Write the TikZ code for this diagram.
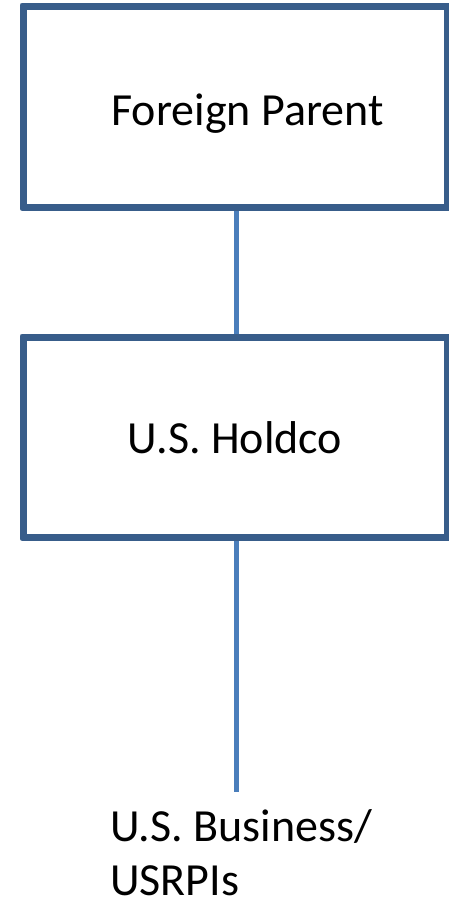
\documentclass[tikz,border=0pt]{standalone}
\usepackage{fontspec}
\setmainfont{Carlito}
\definecolor{boxblue}{HTML}{385D8A}
\definecolor{linkblue}{HTML}{4A7EBB}
\begin{document}
\begin{tikzpicture}[x=1pt,y=1pt,
  entity/.style={draw=boxblue, line width=5pt, line join=round, fill=white,
    minimum width=422pt, inner sep=0pt},
  label/.style={font=\fontsize{46}{55}\selectfont, inner sep=0pt, text=black},
  link/.style={draw=linkblue, line width=5.5pt}]
  \useasboundingbox (0,0) rectangle (448,-905);
  \fill[white] (0,0) rectangle (448,-905);

  \coordinate (bottom) at (236.5,-792);

  % entity boxes
  \node[entity, minimum height=198.5pt] (parent) at (235.5,-106.75) {};
  \node[entity, minimum height=197.5pt] (holdco) at (235.5,-437.25) {};

  % ownership links
  \draw[link] (parent.south -| bottom) -- (holdco.north -| bottom);
  \draw[link] (holdco.south -| bottom) -- (bottom);

  % redraw box edges over the link ends
  \draw[boxblue, line width=5pt, line join=round]
    (parent.north west) rectangle (parent.south east)
    (holdco.north west) rectangle (holdco.south east);

  % texts
  \node[label, anchor=base] (parentT) at (247.5,-125) {Foreign Parent};
  \node[label, anchor=base] (holdcoT) at (235,-453) {U.S. Holdco};
  \node[label, anchor=base west] (biz) at (110,-841) {U.S. Business/};
  \node[label, anchor=base west, text depth=0pt] (usrpi) at (110,-895) {USRPIs};
\end{tikzpicture}
\end{document}
